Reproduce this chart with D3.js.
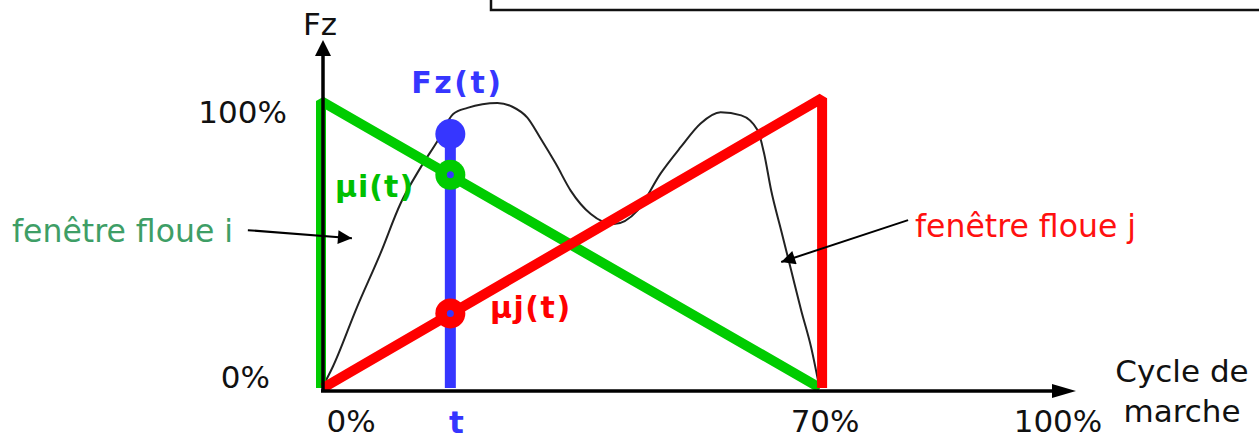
<!DOCTYPE html>
<html><head><meta charset="utf-8">
<script src="https://cdn.jsdelivr.net/npm/d3@7"></script>
<style>body{margin:0;background:#fff;overflow:hidden} svg{display:block}</style>
</head><body>
<script>
// ---- data ----
const cyclePct = [0,1.5,4.9,8.2,11.0,13.8,16.2,18.4,20.4,24.6,26.7,28.8,30.6,32.8,34.9,37.7,40.9,44.3,47.5,50.3,53.1,55.9,58.8,61.1,62.0,63.0,64.4,65.8,67.2,68.6,69.7];
const fzPct    = [0,7.3,28.1,46.9,64.2,76.7,86.1,95.5,97.6,99.3,98.0,94.2,87.2,78.1,68.7,60.6,57.1,62.0,74.8,83.9,92.2,96.1,95.0,89.8,81.8,68.8,54.9,41.0,27.1,14.2,1];
const windowIx = [0, 0, 70];
const windowIy = [0, 100, 0];
const windowJx = [0, 70, 70];
const windowJy = [0, 101, 0];
const tValue = 18;
const fzAtT = 88.5;
const xTickValues = [0, 70, 100];
const xTickLabels = ["0%", "70%", "100%"];
const yTickValues = [0, 100];
const yTickLabels = ["0%", "100%"];

// ---- layout ----
const W = 1259, H = 439;
const svg = d3.select("body").append("svg").attr("width", W).attr("height", H);
const x = d3.scaleLinear().domain([0, 100]).range([322, 1035]);
const y = d3.scaleLinear().domain([0, 100]).range([388, 101]);
const FONT = "'DejaVu Sans', Verdana, sans-serif";
const GREEN = "#00cc00", RED = "#ff0000", BLUE = "#3636ff";

// top box
svg.append("rect").attr("x", 491).attr("y", -20).attr("width", 800).attr("height", 30)
  .attr("fill", "none").attr("stroke", "#111").attr("stroke-width", 2.5);

// Fz curve
const curve = d3.line().x((d, i) => x(cyclePct[i])).y(d => y(d)).curve(d3.curveMonotoneX);
svg.append("path").attr("d", curve(fzPct)).attr("fill", "none")
  .attr("stroke", "#222").attr("stroke-width", 2);

// windows
const poly = (xs, ys) => d3.line()(xs.map((v, i) => [x(v), y(ys[i])]));
svg.append("path").attr("d", poly(windowIx, windowIy)).attr("fill", "none")
  .attr("stroke", GREEN).attr("stroke-width", 10).attr("stroke-linejoin", "bevel")
  .attr("transform", "translate(-1,0)");
svg.append("path").attr("d", poly(windowJx, windowJy)).attr("fill", "none")
  .attr("stroke", RED).attr("stroke-width", 10).attr("stroke-linejoin", "bevel")
  .attr("transform", "translate(1,0)");

// axes
const ax = svg.append("g");
ax.append("line").attr("x1", x(0) + 1).attr("x2", x(0) + 1).attr("y1", y(0) + 4).attr("y2", 52)
  .attr("stroke", "#000").attr("stroke-width", 3.5);
ax.append("path").attr("d", `M${x(0)+1},40 L${x(0)-7},56 L${x(0)+9},56 Z`).attr("fill", "#000");
ax.append("line").attr("x1", x(0) - 1).attr("x2", 1060).attr("y1", y(0) + 3).attr("y2", y(0) + 3)
  .attr("stroke", "#000").attr("stroke-width", 3.5);
ax.append("path").attr("d", `M1076,${y(0)+3} L1052,${y(0)-4} L1052,${y(0)+10} Z`).attr("fill", "#000");

// t line & points
const tx = x(tValue);
svg.append("line").attr("x1", tx).attr("x2", tx).attr("y1", y(0)).attr("y2", y(fzAtT))
  .attr("stroke", BLUE).attr("stroke-width", 11);
svg.append("circle").attr("cx", tx).attr("cy", y(fzAtT)).attr("r", 15).attr("fill", BLUE);
const muI = windowIy[1] * (1 - tValue / 70);
const muJ = windowJy[1] * tValue / 70;
[[muI, GREEN], [muJ, RED]].forEach(([v, c]) => {
  svg.append("circle").attr("cx", tx).attr("cy", y(v)).attr("r", 15).attr("fill", c);
  svg.append("circle").attr("cx", tx).attr("cy", y(v)).attr("r", 3.5).attr("fill", BLUE);
});

// tick labels
const txt = (s, X, Y, opts = {}) => svg.append("text").text(s).attr("x", X).attr("y", Y)
  .attr("font-family", FONT).attr("font-size", opts.size || 31)
  .attr("font-weight", opts.bold ? "bold" : "normal")
  .attr("letter-spacing", opts.ls || 0)
  .attr("fill", opts.color || "#111").attr("text-anchor", opts.anchor || "start");

const xLabelShift = [29, 4, 23];
xTickValues.forEach((v, i) => txt(xTickLabels[i], x(v) + xLabelShift[i], 432, {anchor: "middle"}));
const yLabelEnd = [270, 287];
yTickValues.forEach((v, i) => txt(yTickLabels[i], yLabelEnd[i], y(v) + (i ? 22 : 0), {anchor: "end"}));

txt("Fz", 303, 35, {size: 31});
txt("Cycle de", 1182, 382, {anchor: "middle"});
txt("marche", 1182, 422, {anchor: "middle"});
txt("t", tx + 6, 433, {bold: true, color: BLUE, anchor: "middle"});
txt("Fz(t)", tx + 7, 93, {bold: true, color: BLUE, anchor: "middle", size: 30, ls: 2.5});
txt("μi(t)", 335, 197, {bold: true, color: "#00c000", size: 30, ls: 1});
txt("μj(t)", 490, 318, {bold: true, color: RED, size: 30, ls: 1.5});
txt("fenêtre floue i", 12, 242, {color: "#3e9e66", size: 31.5});
txt("fenêtre floue j", 915, 237, {color: "#ff1010", size: 31.5});

// annotation arrows
svg.append("defs").append("marker").attr("id", "ah").attr("viewBox", "0 0 10 10")
  .attr("refX", 10).attr("refY", 5).attr("markerWidth", 18).attr("markerHeight", 14)
  .attr("markerUnits", "userSpaceOnUse").attr("orient", "auto")
  .append("path").attr("d", "M0,0 L10,5 L0,10 Z").attr("fill", "#000");
const arrows = [[[-10.4, 55.0], [4.2, 52.2]], [[82.2, 58.5], [64.4, 43.9]]];
arrows.forEach(([a, b]) => svg.append("line")
  .attr("x1", x(a[0])).attr("y1", y(a[1])).attr("x2", x(b[0])).attr("y2", y(b[1]))
  .attr("stroke", "#000").attr("stroke-width", 2).attr("marker-end", "url(#ah)"));
</script>
</body></html>
